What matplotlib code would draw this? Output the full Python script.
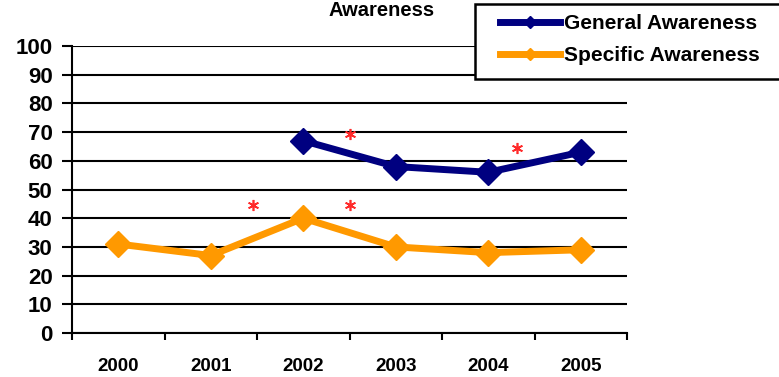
import matplotlib
matplotlib.use("Agg")
import matplotlib.pyplot as plt
from matplotlib.patches import Rectangle
import numpy as np

plt.rcParams['font.family'] = ['Liberation Sans', 'DejaVu Sans']
plt.rcParams['font.weight'] = 'bold'

years = ['2000', '2001', '2002', '2003', '2004', '2005']
general = [np.nan, np.nan, 67, 58, 56, 63]
specific = [31, 27, 40, 30, 28, 29]
star_x = [1.46, 2.5, 2.5, 4.31]
star_y = [44.6, 69.5, 44.6, 64.5]
yticks = list(range(0, 101, 10))

W, H = 779, 377
fig = plt.figure(figsize=(W/100, H/100), dpi=100)
ax = fig.add_axes([72/W, 1-333/H, (627-72)/W, (333-46)/H])

x = np.arange(len(years))
ax.plot(x, general, color='#000080', lw=5, marker='D', ms=13.5, label='General Awareness', clip_on=False, zorder=3)
ax.plot(x, specific, color='#FF9900', lw=5, marker='D', ms=13.5, label='Specific Awareness', clip_on=False, zorder=3)
ax.plot(star_x, star_y, linestyle='none', marker=(6, 2, 0), ms=8, mew=1.2, color='#FF2A2A', zorder=4)

ax.set_xlim(-0.5, len(years) - 0.5)
ax.set_ylim(0, 100)
ax.set_yticks(yticks)
ax.set_yticklabels([str(v) for v in yticks], fontsize=16, fontweight='bold')
ax.yaxis.grid(True, color='black', lw=1.5)
ax.set_axisbelow(True)
ax.tick_params(axis='y', length=7, width=1.5, pad=7)
ax.set_xticks(np.arange(-0.5, len(years), 1.0))
ax.set_xticklabels([])
ax.tick_params(axis='x', which='major', length=5, width=1.5, direction='out')
ax.set_xticks(x, minor=True)
ax.set_xticklabels(years, minor=True, fontsize=13.5, fontweight='bold')
ax.tick_params(axis='x', which='minor', length=0, pad=18)
for s in ['top', 'right']:
    ax.spines[s].set_visible(False)
for s in ['left', 'bottom']:
    ax.spines[s].set_linewidth(1.5)

fig.text(382/W, 1 - 1/H, 'Awareness', ha='center', va='top', fontsize=14.5, fontweight='bold')

# legend box
fig.patches.append(Rectangle((475/W, 1-79/H), (800-475)/W, 75/H, transform=fig.transFigure,
                             facecolor='white', edgecolor='black', lw=1.8, zorder=5))
leg = fig.legend(loc='upper left', bbox_to_anchor=(500/W, 1-14/H), frameon=False,
                 prop={'weight': 'bold', 'size': 15}, handlelength=2.9, handletextpad=0.15,
                 borderpad=0, labelspacing=0.62, borderaxespad=0)
leg.set_zorder(6)
for h in leg.legend_handles:
    h.set_markersize(6.5)

fig.savefig('out.png', dpi=100)
